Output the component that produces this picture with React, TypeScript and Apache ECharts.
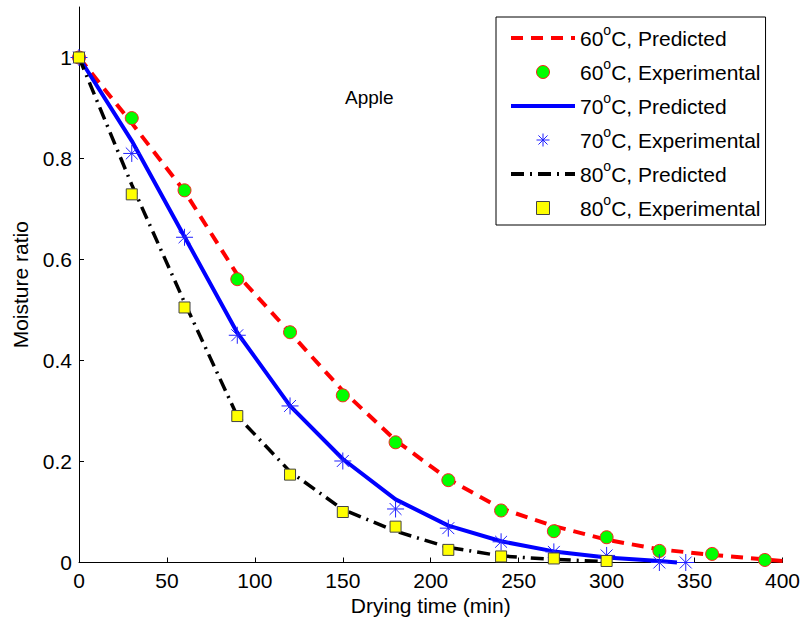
import React, { useEffect, useRef } from 'react';
import * as echarts from 'echarts';

// ---- data ----
const predTime60 = [0, 30, 60, 90, 120, 150, 180, 210, 240, 270, 300, 330, 360, 390, 400];
const pred60 = [1, 0.87, 0.735, 0.57, 0.455, 0.34, 0.242, 0.165, 0.107, 0.072, 0.045, 0.026, 0.015, 0.006, 0.003];
const expTime60 = [0, 30, 60, 90, 120, 150, 180, 210, 240, 270, 300, 330, 360, 390];
const exp60 = [1, 0.88, 0.737, 0.561, 0.456, 0.331, 0.238, 0.163, 0.103, 0.062, 0.05, 0.023, 0.017, 0.005];

const predTime70 = [0, 30, 60, 90, 120, 150, 180, 210, 240, 270, 300, 330, 340];
const pred70 = [1, 0.835, 0.645, 0.455, 0.31, 0.205, 0.125, 0.073, 0.042, 0.022, 0.01, 0.003, 0];
const expTime70 = [0, 30, 60, 90, 120, 150, 180, 210, 240, 270, 300, 330, 345];
const exp70 = [1, 0.81, 0.644, 0.45, 0.31, 0.201, 0.106, 0.068, 0.041, 0.021, 0.014, 0, 0];

const predTime80 = [0, 30, 60, 90, 120, 150, 180, 210, 240, 270, 300];
const pred80 = [1, 0.748, 0.515, 0.29, 0.18, 0.105, 0.062, 0.03, 0.013, 0.006, 0.002];
const expTime80 = [0, 30, 60, 90, 120, 150, 180, 210, 240, 270, 300];
const exp80 = [1, 0.729, 0.505, 0.29, 0.174, 0.1, 0.071, 0.025, 0.012, 0.008, 0.003];

const seriesNames = [
  '60°C, Predicted',
  '60°C, Experimental',
  '70°C, Predicted',
  '70°C, Experimental',
  '80°C, Predicted',
  '80°C, Experimental',
];
const yTicks = [0, 0.2, 0.4, 0.6, 0.8, 1];
const xTitle = 'Drying time (min)';
const yTitle = 'Moisture ratio';
const chartTitle = 'Apple';

const FONT = '"Liberation Sans", Arial, Helvetica, sans-serif';
const STAR = 'path://M10,0L10,20M0,10L20,10M3,3L17,17M3,17L17,3';

const pairs = (xs: number[], ys: number[]) => xs.map((x, i) => [x, ys[i]]);

export default function App() {
  const ref = useRef<HTMLDivElement>(null);
  useEffect(() => {
    if (!ref.current) return;
    const chart = echarts.init(ref.current, undefined, { renderer: 'svg' });
    const dash60 = [12, 8];
    const dash80 = [13, 6, 2, 6];
    const hidden = { color: 'transparent', borderColor: 'transparent', borderWidth: 0, opacity: 0 };
    chart.setOption({
      animation: false,
      backgroundColor: '#ffffff',
      textStyle: { fontFamily: FONT },
      title: {
        text: chartTitle,
        left: 345,
        top: 88,
        padding: 0,
        textStyle: { fontSize: 19, fontWeight: 'normal', color: '#000', fontFamily: FONT },
      },
      grid: { left: 79, right: 17.5, top: 7, bottom: 59.5, containLabel: false },
      legend: {
        orient: 'vertical',
        left: 496,
        top: 17,
        padding: [6, 5, 2, 13],
        backgroundColor: '#fff',
        borderColor: '#000',
        borderWidth: 1,
        borderRadius: 0,
        itemWidth: 64,
        itemHeight: 13,
        itemGap: 4,
        selectedMode: false,
        symbolKeepAspect: true,
        itemStyle: { borderWidth: 1 },
        lineStyle: { width: 4 },
        data: [
          { name: seriesNames[0], lineStyle: { width: 4, type: dash60, color: '#ff0000' }, itemStyle: hidden },
          { name: seriesNames[1] },
          { name: seriesNames[2], lineStyle: { width: 4, type: 'solid', color: '#0000ff' }, itemStyle: hidden },
          { name: seriesNames[3], itemStyle: { borderWidth: 1, color: 'transparent', borderColor: '#2020ff' } },
          { name: seriesNames[4], lineStyle: { width: 4, type: dash80, color: '#000' }, itemStyle: hidden },
          { name: seriesNames[5], icon: 'path://M0,0L10,0L10,10L0,10Z', itemStyle: { borderWidth: 1, color: '#ffff00', borderColor: '#444' } },
        ],
        formatter: (name: string) => name.replace('°', '{sup|o}'),
        textStyle: {
          fontSize: 21,
          color: '#000',
          fontFamily: FONT,
          lineHeight: 22,
          rich: {
            sup: { fontSize: 14, lineHeight: 6, padding: [0, 0, 16, 0], color: '#000', fontFamily: FONT },
          },
        },
      },
      xAxis: {
        type: 'value',
        min: 0,
        max: 400,
        interval: 50,
        name: xTitle,
        nameLocation: 'middle',
        nameGap: 32,
        nameTextStyle: { fontSize: 21, color: '#000', fontFamily: FONT },
        axisLine: { show: true, onZero: false, lineStyle: { color: '#000', width: 1 } },
        axisTick: { show: true, inside: true, length: 5, lineStyle: { color: '#000' } },
        axisLabel: { fontSize: 21, color: '#000', margin: 7, fontFamily: FONT },
        splitLine: { show: false },
      },
      yAxis: {
        type: 'value',
        min: 0,
        max: 1.1,
        interval: 0.2,
        name: yTitle,
        nameLocation: 'middle',
        nameGap: 48,
        nameTextStyle: { fontSize: 21, color: '#000', fontFamily: FONT },
        axisLine: { show: true, onZero: false, lineStyle: { color: '#000', width: 1 } },
        axisTick: { show: true, inside: true, length: 5, lineStyle: { color: '#000' }, customValues: yTicks },
        axisLabel: { fontSize: 21, color: '#000', margin: 7, fontFamily: FONT, customValues: yTicks },
        splitLine: { show: false },
      },
      series: [
        {
          name: seriesNames[0],
          type: 'line',
          data: pairs(predTime60, pred60),
          symbol: 'none',
          color: '#ff0000',
          lineStyle: { color: '#ff0000', width: 4, type: dash60, cap: 'butt' },
          clip: false,
          z: 2,
        },
        {
          name: seriesNames[1],
          type: 'scatter',
          data: pairs(expTime60, exp60),
          symbol: 'circle',
          symbolSize: 13,
          itemStyle: { color: '#00ff00', borderColor: '#ff2020', borderWidth: 1, opacity: 1 },
          clip: false,
          z: 3,
        },
        {
          name: seriesNames[2],
          type: 'line',
          data: pairs(predTime70, pred70),
          symbol: 'none',
          color: '#0000ff',
          lineStyle: { color: '#0000ff', width: 4, type: 'solid' },
          clip: false,
          z: 4,
        },
        {
          name: seriesNames[3],
          type: 'scatter',
          data: pairs(expTime70, exp70),
          symbol: STAR,
          symbolSize: 17,
          itemStyle: { color: 'transparent', borderColor: '#2020ff', borderWidth: 1, opacity: 1 },
          clip: false,
          z: 5,
        },
        {
          name: seriesNames[4],
          type: 'line',
          data: pairs(predTime80, pred80),
          symbol: 'none',
          color: '#000',
          lineStyle: { color: '#000', width: 3.5, type: dash80, cap: 'butt' },
          clip: false,
          z: 6,
        },
        {
          name: seriesNames[5],
          type: 'scatter',
          data: pairs(expTime80, exp80),
          symbol: 'rect',
          symbolSize: 11,
          itemStyle: { color: '#ffff00', borderColor: '#444', borderWidth: 1, opacity: 1 },
          clip: false,
          z: 7,
        },
      ],
    });
    return () => chart.dispose();
  }, []);
  return (
    <div
      ref={ref}
      style={{ position: 'fixed', left: 0, top: 0, width: 803, height: 622, background: '#fff' }}
    />
  );
}
